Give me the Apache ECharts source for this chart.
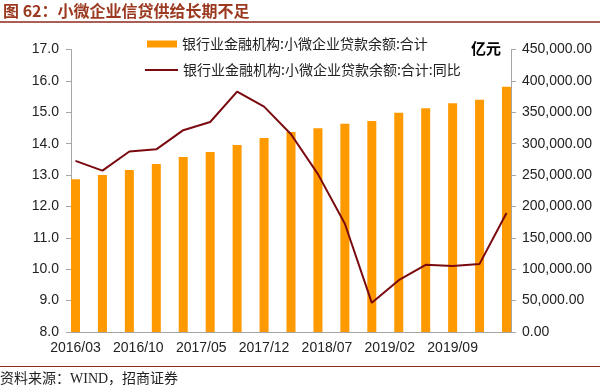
<!DOCTYPE html>
<html>
<head>
<meta charset="utf-8">
<script src="https://cdn.jsdelivr.net/npm/echarts@6/dist/echarts.min.js"></script>
<style>
html,body{margin:0;padding:0;background:#fff;}
#chart{width:600px;height:387px;}
</style>
</head>
<body>
<div id="chart"></div>
<script>
// ---- data ----
const quarters = ['2016/03','2016/06','2016/09','2016/12','2017/03','2017/06','2017/09','2017/12',
                  '2018/03','2018/06','2018/09','2018/12','2019/03','2019/06','2019/09','2019/12','2020/03'];
const loanBalance = [243200,250100,258100,267600,278800,286700,297900,309000,
                     318600,324500,331800,336100,349400,356300,364300,370100,390800];
const yoyGrowth = [13.45,13.14,13.75,13.82,14.43,14.69,15.66,15.18,
                   14.30,13.03,11.45,8.93,9.65,10.14,10.10,10.17,11.79];
const barName = '银行业金融机构:小微企业贷款余额:合计';
const lineName = '银行业金融机构:小微企业贷款余额:合计:同比';
const titleText = '图 62：小微企业信贷供给长期不足';
const sourceText = '资料来源：WIND，招商证券';
const unitText = '亿元';
const leftAxisRange = [8, 17, 1];
const rightAxisRange = [0, 450000, 50000];

// monthly date axis (Excel-style date axis)
const months = [];
{
  let y = 2016, m = 3;
  while (y < 2020 || (y === 2020 && m <= 3)) {
    months.push(y + '/' + String(m).padStart(2, '0'));
    m++; if (m > 12) { m = 1; y++; }
  }
}
const barData = months.map(mo => { const i = quarters.indexOf(mo); return i >= 0 ? loanBalance[i] : '-'; });
const lineData = months.map(mo => { const i = quarters.indexOf(mo); return i >= 0 ? yoyGrowth[i] : '-'; });

const chart = echarts.init(document.getElementById('chart'), null, {renderer: 'canvas'});
const axisColor = '#A6A6A6';
const labelFont = {color: '#222', fontSize: 14, fontFamily: '"Liberation Sans", Arial, sans-serif'};
const ruleColor = '#8E2A1E';
const legendText = {color: '#222', fontSize: 14, fontFamily: '"Noto Sans CJK SC", sans-serif'};

chart.setOption({
  animation: false,
  backgroundColor: '#fff',
  grid: {left: 71, right: 89, top: 49.5, bottom: 55, containLabel: false},
  legend: [
    {data: [{name: barName, icon: 'rect'}], left: 147, top: 37, padding: 0, itemWidth: 30, itemHeight: 7,
     textStyle: legendText},
    {data: [{name: lineName, icon: 'rect'}], left: 145, top: 63, padding: 0, itemWidth: 33, itemHeight: 2,
     textStyle: legendText}
  ],
  xAxis: {
    type: 'category', data: months, boundaryGap: true,
    axisLine: {lineStyle: {color: axisColor, width: 1}},
    axisTick: {interval: 6, length: 5, lineStyle: {color: axisColor}},
    axisLabel: Object.assign({interval: 6, margin: 9}, labelFont),
    splitLine: {show: false}
  },
  yAxis: [
    {type: 'value', min: leftAxisRange[0], max: leftAxisRange[1], interval: leftAxisRange[2],
     axisLine: {show: true, lineStyle: {color: axisColor}},
     axisTick: {show: true, length: 5, lineStyle: {color: axisColor}},
     axisLabel: Object.assign({margin: 12, formatter: v => v.toFixed(1)}, labelFont),
     splitLine: {show: false}},
    {type: 'value', min: rightAxisRange[0], max: rightAxisRange[1], interval: rightAxisRange[2], position: 'right',
     axisLine: {show: true, lineStyle: {color: axisColor}},
     axisTick: {show: true, length: 5, lineStyle: {color: axisColor}},
     axisLabel: Object.assign({margin: 11, formatter: v => v.toLocaleString('en-US', {minimumFractionDigits: 2, maximumFractionDigits: 2})}, labelFont),
     splitLine: {show: false}}
  ],
  series: [
    {name: barName, type: 'bar', yAxisIndex: 1, data: barData, barWidth: 9,
     itemStyle: {color: '#FF9900'}},
    {name: lineName, type: 'line', yAxisIndex: 0, data: lineData, connectNulls: true,
     symbol: 'none', lineStyle: {color: '#7A0A10', width: 2}, itemStyle: {color: '#7A0A10'}}
  ],
  graphic: [
    {type: 'text', left: 3, top: 3, style: {text: titleText, fill: '#9B3A20', font: 'bold 16px "Noto Sans CJK SC", sans-serif'}},
    {type: 'line', shape: {x1: 0, y1: 22, x2: 600, y2: 22}, style: {stroke: ruleColor, lineWidth: 1.5}},
    {type: 'line', shape: {x1: 0, y1: 366.5, x2: 600, y2: 366.5}, style: {stroke: ruleColor, lineWidth: 1.2}},
    {type: 'text', left: 0, top: 372, style: {text: sourceText, fill: '#222', font: '14px "Liberation Serif", "Noto Sans CJK SC", serif'}},
    {type: 'text', left: 471, top: 41, style: {text: unitText, fill: '#000', font: 'bold 15px "Noto Sans CJK SC", sans-serif'}}
  ]
});
</script>
</body>
</html>
